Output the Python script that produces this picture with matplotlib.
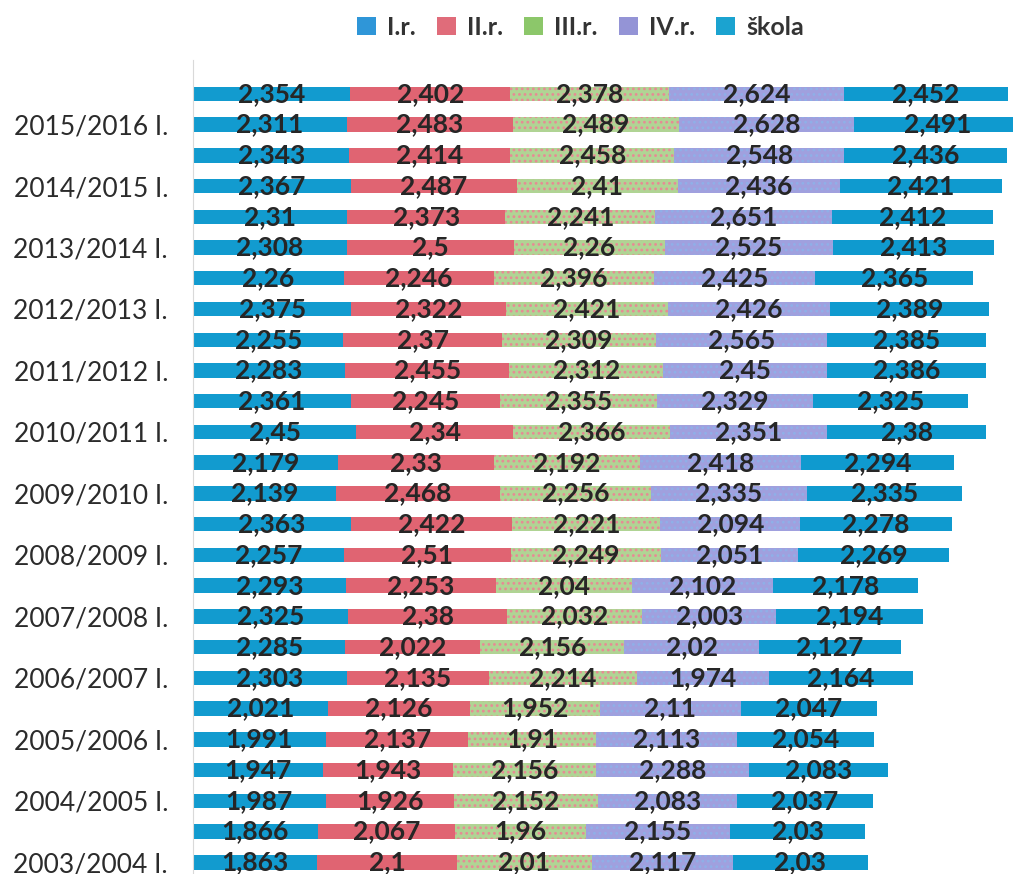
import matplotlib
matplotlib.use('Agg')
import matplotlib.pyplot as plt
from matplotlib.patches import Patch
import numpy as np

plt.rcParams['font.family'] = ['Lato', 'DejaVu Sans']
plt.rcParams['hatch.linewidth'] = 1.2

# rows top to bottom, labelled every second row
years = ['2015/2016', '2014/2015', '2013/2014', '2012/2013', '2011/2012',
         '2010/2011', '2009/2010', '2008/2009', '2007/2008', '2006/2007',
         '2005/2006', '2004/2005', '2003/2004']
row_labels = []
for y in years:
    row_labels += [y + ' II.', y + ' I.']

series = ['I.r.', 'II.r.', 'III.r.', 'IV.r.', 'škola']

r1 = [2.354, 2.311, 2.343, 2.367, 2.31, 2.308, 2.26, 2.375, 2.255, 2.283,
      2.361, 2.45, 2.179, 2.139, 2.363, 2.257, 2.293, 2.325, 2.285, 2.303,
      2.021, 1.991, 1.947, 1.987, 1.866, 1.863]
r2 = [2.402, 2.483, 2.414, 2.487, 2.373, 2.5, 2.246, 2.322, 2.37, 2.455,
      2.245, 2.34, 2.33, 2.468, 2.422, 2.51, 2.253, 2.38, 2.022, 2.135,
      2.126, 2.137, 1.943, 1.926, 2.067, 2.1]
r3 = [2.378, 2.489, 2.458, 2.41, 2.241, 2.26, 2.396, 2.421, 2.309, 2.312,
      2.355, 2.366, 2.192, 2.256, 2.221, 2.249, 2.04, 2.032, 2.156, 2.214,
      1.952, 1.91, 2.156, 2.152, 1.96, 2.01]
r4 = [2.624, 2.628, 2.548, 2.436, 2.651, 2.525, 2.425, 2.426, 2.565, 2.45,
      2.329, 2.351, 2.418, 2.335, 2.094, 2.051, 2.102, 2.003, 2.02, 1.974,
      2.11, 2.113, 2.288, 2.083, 2.155, 2.117]
skola = [2.452, 2.491, 2.436, 2.421, 2.412, 2.413, 2.365, 2.389, 2.385, 2.386,
         2.325, 2.38, 2.294, 2.335, 2.278, 2.269, 2.178, 2.194, 2.127, 2.164,
         2.047, 2.054, 2.083, 2.037, 2.03, 2.03]

data = [r1, r2, r3, r4, skola]
colors = ['#129bcf', '#e06472', '#b0d494', '#a0a0de', '#0f9acf']
hatches = [None, None, '...', '...', None]
hatch_cols = [None, None, '#e88a94', '#8fb0e8', None]
legend_cols = ['#2f96d8', '#e06c7a', '#8cc76a', '#9494d6', '#1ba3d0']

fig = plt.figure(figsize=(10.13, 8.74), dpi=100)
ax = fig.add_axes([193 / 1013, 0, 820 / 1013, 814 / 874])

ypos = np.arange(len(row_labels))
left = np.zeros(len(row_labels))
for vals, c, h, hc in zip(data, colors, hatches, hatch_cols):
    vals = np.array(vals)
    if h:
        ax.barh(ypos, vals, left=left, height=0.47, color=c,
                hatch=h, edgecolor=hc, linewidth=0)
    else:
        ax.barh(ypos, vals, left=left, height=0.47, color=c, linewidth=0)
    for yy, l, v in zip(ypos, left, vals):
        ax.text(l + v / 2, yy, f'{v:g}'.replace('.', ','), ha='center',
                va='center', fontsize=19, fontweight='bold', color='#262626')
    left += vals

ax.set_xlim(0, 12.29)
ax.set_ylim(25.38, -1.10)
ax.set_yticks(ypos[1::2])
ax.set_yticklabels(row_labels[1::2], fontsize=19, color='#2b2b2b')
ax.tick_params(axis='y', length=0, pad=18)
ax.set_xticks([])
for s in ['top', 'right', 'bottom']:
    ax.spines[s].set_visible(False)
ax.spines['left'].set_color('#d9d9d9')

handles = [Patch(facecolor=c, label=s) for c, s in zip(legend_cols, series)]
leg = fig.legend(handles=handles, loc='center', bbox_to_anchor=(0.573, 0.969),
                 ncol=5, frameon=False, handlelength=0.75, handleheight=0.75,
                 handletextpad=0.45, columnspacing=0.85,
                 prop={'size': 18, 'weight': 'bold'})
for t in leg.get_texts():
    t.set_color('#333333')

fig.savefig('out.png', dpi=100)
